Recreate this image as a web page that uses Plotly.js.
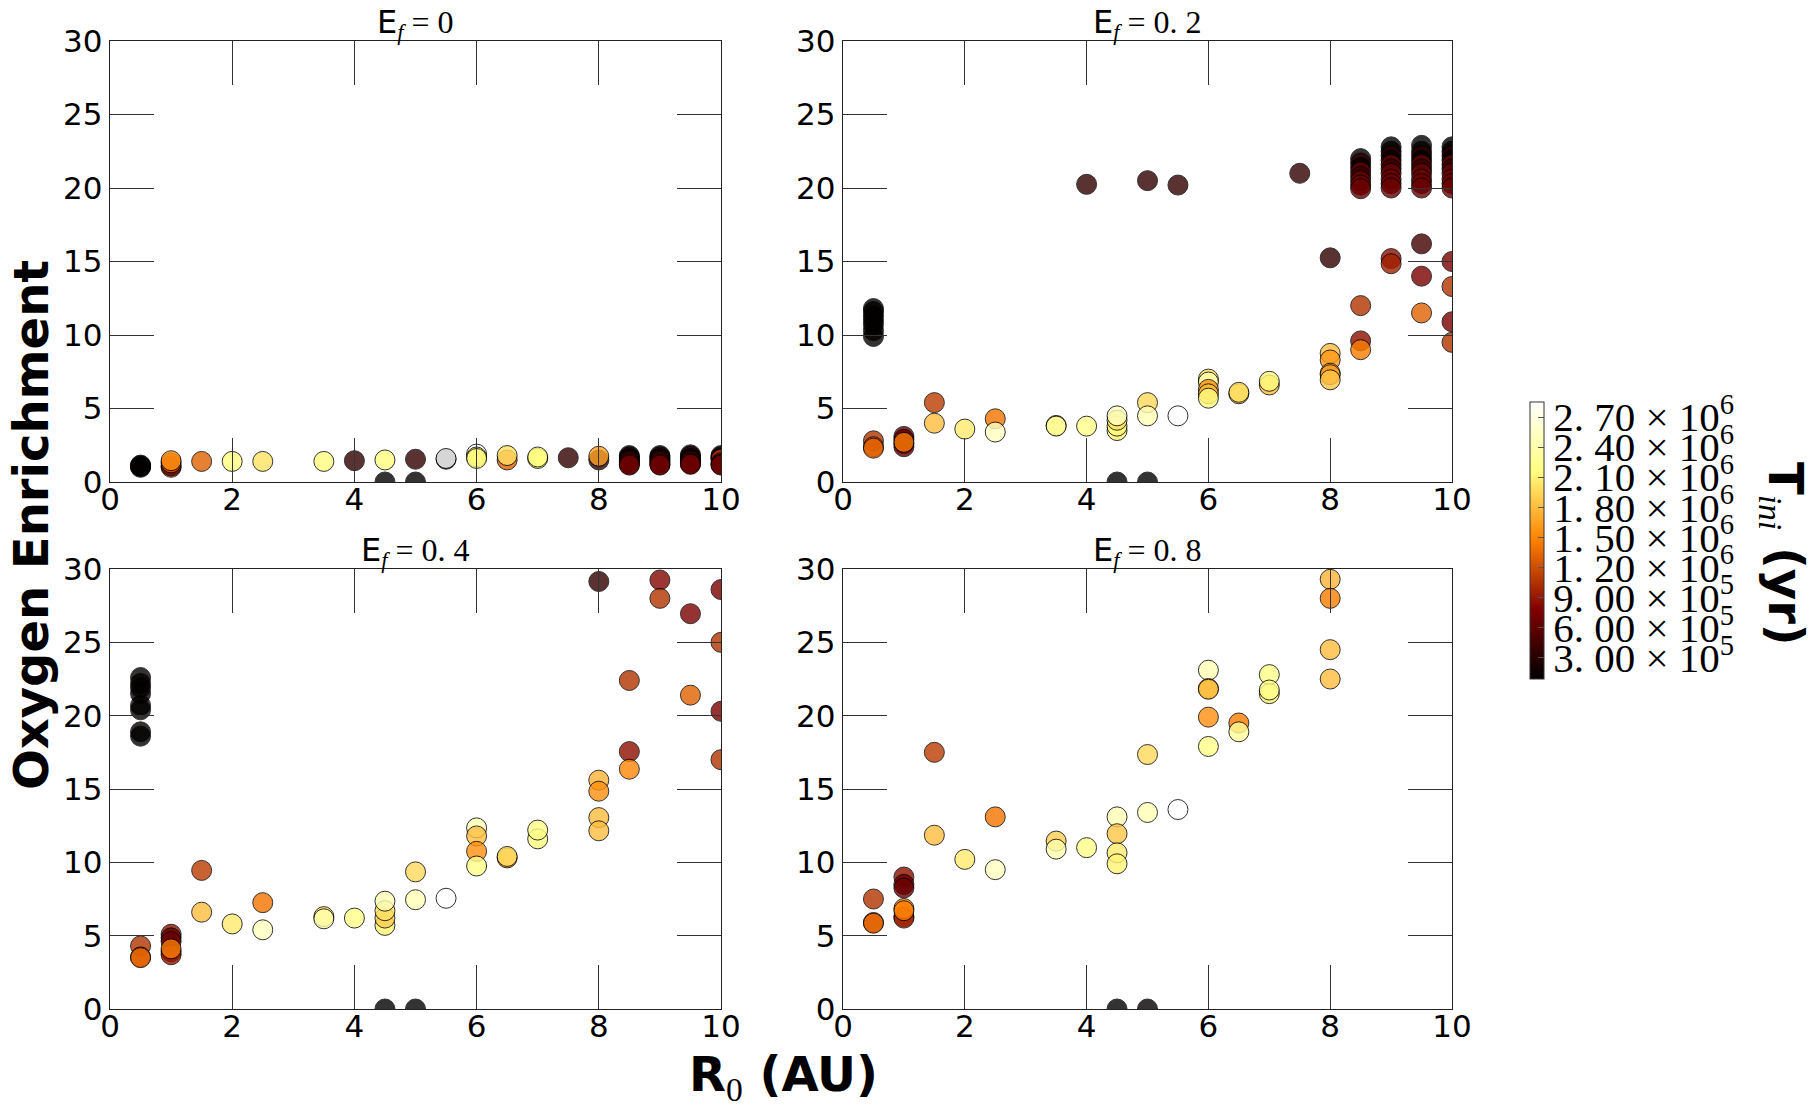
<!DOCTYPE html>
<html>
<head>
<meta charset="utf-8">
<script src="https://cdn.plot.ly/plotly-3.0.1.min.js"></script>
<style>html,body{margin:0;padding:0;background:#fff;}</style>
</head>
<body>
<div id="chart" style="width:1816px;height:1113px;"></div>
<script>
// ---------- DATA ----------
// Panel E_f = 0
const ef0_R0 = [0.5,0.5,0.5,0.5, 1,1,1,1, 1.5, 2, 2.5, 3.5, 4, 4.5,4.5, 5,5, 5.5,5.5, 6,6,6, 6.5,6.5, 7,7, 7.5, 8,8,
  8.5,8.5,8.5,8.5,8.5,8.5,8.5,8.5, 9,9,9,9,9,9,9,9, 9.5,9.5,9.5,9.5,9.5,9.5,9.5,9.5, 10,10,10,10,10,10,10];
const ef0_enrich = [1.0,1.05,1.1,1.15, 1.0,1.1,1.3,1.45, 1.4, 1.4, 1.4, 1.4, 1.45, 0,1.5, 0,1.55, 1.55,1.6, 1.9,1.7,1.6, 1.5,1.8, 1.6,1.7, 1.65, 1.5,1.75,
  1.8,1.7,1.6,1.5,1.4,1.3,1.2,1.15, 1.8,1.7,1.6,1.5,1.4,1.3,1.2,1.15, 1.85,1.75,1.6,1.5,1.4,1.3,1.25,1.2, 1.8,1.7,1.6,1.55,1.3,1.2,1.15];
const ef0_tini = [1.0e5,1.0e5,1.0e5,1.0e5, 1.05e6,6.5e5,1.3e6,1.55e6, 1.3e6, 2.15e6, 2.0e6, 2.15e6, 3.5e5, 1.0e5,2.15e6, 1.0e5,3.5e5, 1.0e5,2.85e6, 2.85e6,2.0e6,2.15e6, 1.3e6,2.0e6, 2.15e6,2.15e6, 3.5e5, 3.5e5,1.65e6,
  1.0e5,3.5e5,1.0e5,3.5e5,6.5e5,6.5e5,6.5e5,6.5e5, 1.0e5,3.5e5,1.0e5,3.5e5,6.5e5,6.5e5,6.5e5,6.5e5, 1.0e5,3.5e5,1.0e5,3.5e5,6.5e5,6.5e5,6.5e5,6.5e5, 1.0e5,3.5e5,6.5e5,1.05e6,6.5e5,6.5e5,6.5e5];

// Panel E_f = 0.2
const ef02_R0 = [0.5,0.5,0.5,0.5,0.5,0.5,0.5, 0.5,0.5,0.5, 1,1,1,1,1, 1.5,1.5, 2, 2.5,2.5, 3.5,3.5, 4,4,
  4.5,4.5,4.5,4.5,4.5, 5,5,5,5, 5.5,5.5, 6,6,6,6,6, 6.5,6.5, 7,7, 7.5, 8,8,8,8,8,8,
  8.5,8.5,8.5,8.5,8.5,8.5,8.5,8.5, 8.5,8.5,8.5,
  9,9,9,9,9,9,9,9,9,9, 9,9,
  9.5,9.5,9.5,9.5,9.5,9.5,9.5,9.5,9.5,9.5, 9.5,9.5,9.5,
  10,10,10,10,10,10,10,10,10,10, 10,10,10,10];
const ef02_enrich = [9.9,10.3,10.7,11.0,11.3,11.6,11.8, 2.8,2.4,2.3, 3.1,2.9,2.6,2.4,2.7, 5.4,4.0, 3.6, 4.3,3.4, 3.85,3.8, 3.8,20.25,
  0,3.5,3.8,4.2,4.5, 0,20.5,5.4,4.5, 20.2,4.5, 7.0,6.8,6.3,6.0,5.7, 6.0,6.1, 6.6,6.85, 21.0, 15.25,8.75,8.3,7.4,7.3,6.95,
  22.0,21.7,21.4,21.1,20.8,20.5,20.2,19.95, 12.0,9.6,9.0,
  22.8,22.5,22.2,21.9,21.6,21.3,21.0,20.6,20.3,20.0, 15.2,14.85,
  22.9,22.5,22.2,21.9,21.6,21.3,21.0,20.6,20.3,20.0, 16.2,14.0,11.5,
  22.8,22.5,22.2,21.9,21.6,21.3,21.0,20.6,20.3,20.0, 15.0,13.3,10.9,9.5];
const ef02_tini = [1.0e5,1.0e5,1.0e5,1.0e5,1.0e5,1.0e5,1.0e5, 1.05e6,1.3e6,1.3e6, 6.5e5,6.5e5,6.5e5,6.5e5,1.45e6, 1.1e6,1.8e6, 2.05e6, 1.4e6,2.5e6, 2.0e6,2.3e6, 2.2e6,3.5e5,
  1.0e5,2.1e6,2.15e6,2.0e6,2.5e6, 1.0e5,3.5e5,1.95e6,2.45e6, 3.5e5,2.85e6, 2.0e6,2.4e6,1.55e6,1.8e6,2.15e6, 1.8e6,2.0e6, 1.8e6,2.15e6, 3.5e5, 3.5e5,1.8e6,1.6e6,1.8e6,1.6e6,1.85e6,
  1.0e5,3.5e5,1.0e5,6.5e5,3.5e5,6.5e5,6.5e5,6.5e5, 1.05e6,8.5e5,1.45e6,
  1.0e5,1.0e5,3.5e5,1.0e5,6.5e5,3.5e5,6.5e5,6.5e5,6.5e5,6.5e5, 8.5e5,9.5e5,
  1.0e5,1.0e5,3.5e5,1.0e5,6.5e5,3.5e5,6.5e5,6.5e5,6.5e5,6.5e5, 4.5e5,7.5e5,1.3e6,
  1.0e5,1.0e5,3.5e5,1.0e5,6.5e5,3.5e5,6.5e5,6.5e5,6.5e5,6.5e5, 7.5e5,1.05e6,7.5e5,1.05e6];

// Panel E_f = 0.4
const ef04_R0 = [0.5,0.5,0.5,0.5,0.5,0.5,0.5,0.5, 0.5,0.5,0.5, 1,1,1,1,1,1, 1.5,1.5, 2, 2.5,2.5, 3.5,3.5, 4,
  4.5,4.5,4.5,4.5,4.5, 5,5,5, 5.5, 6,6,6,6, 6.5,6.5, 7,7, 8,8,8,8,8, 8.5,8.5,8.5, 9,9, 9.5,9.5, 10,10,10,10];
const ef04_enrich = [22.6,22.2,21.9,21.5,20.7,20.4,18.9,18.6, 4.3,3.55,3.5, 5.1,4.85,4.6,3.9,3.7,4.1, 9.45,6.6, 5.8, 7.25,5.4, 6.3,6.15, 6.2,
  0,5.7,6.2,6.7,7.35, 0,9.35,7.45, 7.55, 12.35,11.8,10.75,9.75, 10.3,10.4, 11.6,12.2, 29.15,15.6,14.85,13.05,12.15, 22.4,17.55,16.35, 29.25,28.0, 26.95,21.4, 28.6,25.0,20.3,17.0];
const ef04_tini = [1.0e5,1.0e5,1.0e5,1.0e5,1.0e5,1.0e5,1.0e5,1.0e5, 1.05e6,1.3e6,1.3e6, 8.5e5,6.5e5,6.5e5,6.5e5,9.0e5,1.45e6, 1.1e6,1.8e6, 2.05e6, 1.4e6,2.5e6, 2.0e6,2.4e6, 2.2e6,
  1.0e5,2.1e6,1.9e6,2.0e6,2.45e6, 1.0e5,1.95e6,2.45e6, 2.85e6, 2.45e6,1.8e6,1.55e6,2.2e6, 1.55e6,2.0e6, 2.15e6,2.2e6, 3.5e5,1.75e6,1.55e6,1.8e6,1.8e6, 1.05e6,8.5e5,1.5e6, 8.0e5,1.05e6, 7.5e5,1.3e6, 7.5e5,1.05e6,7.5e5,1.05e6];

// Panel E_f = 0.8
const ef08_R0 = [0.5,0.5,0.5, 1,1,1,1,1,1,1, 1.5,1.5, 2, 2.5,2.5, 3.5,3.5, 4, 4.5,4.5,4.5,4.5,4.5, 5,5,5, 5.5,
  6,6,6,6,6, 6.5,6.5, 7,7,7, 8,8,8,8];
const ef08_enrich = [7.5,5.9,5.85, 9.0,8.5,8.25,6.3,6.2,6.85,6.7, 17.5,11.85, 10.2, 13.1,9.5, 11.45,10.9, 11.0, 0,13.1,11.95,10.65,9.9, 0,17.35,13.4, 13.6,
  23.1,21.85,21.8,19.9,17.9, 19.5,18.9, 22.8,21.5,21.75, 29.3,28.0,24.5,22.5];
const ef08_tini = [1.05e6,1.3e6,1.3e6, 8.5e5,6.5e5,6.5e5,7.0e5,1.0e6,1.5e6,1.45e6, 1.1e6,1.8e6, 2.05e6, 1.4e6,2.5e6, 1.9e6,2.4e6, 2.2e6, 1.0e5,2.45e6,1.85e6,2.05e6,2.1e6, 1.0e5,1.95e6,2.45e6, 2.85e6,
  2.45e6,1.8e6,1.8e6,1.55e6,2.2e6, 1.45e6,2.3e6, 2.2e6,2.1e6,2.2e6, 1.75e6,1.45e6,1.8e6,1.8e6];

const panelTitles = ['0', '0. 2', '0. 4', '0. 8'];
const cbTickVals = [3.0e5, 6.0e5, 9.0e5, 1.2e6, 1.5e6, 1.8e6, 2.1e6, 2.4e6, 2.7e6];
const cbTickText = ['3. 00 × 10<sup>5</sup>', '6. 00 × 10<sup>5</sup>', '9. 00 × 10<sup>5</sup>',
  '1. 20 × 10<sup>6</sup>', '1. 50 × 10<sup>6</sup>', '1. 80 × 10<sup>6</sup>',
  '2. 10 × 10<sup>6</sup>', '2. 40 × 10<sup>6</sup>', '2. 70 × 10<sup>6</sup>'];
const xTicks = [0, 2, 4, 6, 8, 10];
const yTicks = [0, 5, 10, 15, 20, 25, 30];

// ---------- STYLE ----------
const afmhot = [[0, 'rgb(0,0,0)'], [0.25, 'rgb(128,0,0)'], [0.5, 'rgb(255,128,0)'], [0.75, 'rgb(255,255,128)'], [1, 'rgb(255,255,255)']];
const SERIF = 'Liberation Serif, DejaVu Serif, serif';
const SANS = 'DejaVu Sans, sans-serif';

function trace(x, y, c, xa, ya) {
  return {
    type: 'scatter', mode: 'markers', x: x, y: y, xaxis: xa, yaxis: ya,
    marker: { color: c, coloraxis: 'coloraxis', size: 20, opacity: 0.8, line: { color: '#000', width: 1 } },
    hoverinfo: 'x+y', showlegend: false
  };
}

const data = [
  trace(ef0_R0, ef0_enrich, ef0_tini, 'x', 'y'),
  trace(ef02_R0, ef02_enrich, ef02_tini, 'x2', 'y2'),
  trace(ef04_R0, ef04_enrich, ef04_tini, 'x3', 'y3'),
  trace(ef08_R0, ef08_enrich, ef08_tini, 'x4', 'y4')
];

const W = 1816, H = 1113;
const colL = [110 / W, 721 / W], colR = [843 / W, 1452 / W];
const rowT = [1 - 482 / H, 1 - 41 / H], rowB = [1 - 1009 / H, 1 - 569 / H];

function xax(dom, anchor) {
  return {
    domain: dom, anchor: anchor, range: [0, 10], tickvals: xTicks, ticks: 'inside', ticklen: 44, tickwidth: 1,
    tickcolor: '#333', showline: true, linecolor: '#222', linewidth: 1.3, mirror: 'ticks', showgrid: false, zeroline: false,
    tickfont: { family: SANS, size: 31, color: '#000' }, ticklabelstandoff: -11, fixedrange: true
  };
}
function yax(dom, anchor) {
  return {
    domain: dom, anchor: anchor, range: [0, 30], tickvals: yTicks, ticks: 'inside', ticklen: 44, tickwidth: 1,
    tickcolor: '#333', showline: true, linecolor: '#222', linewidth: 1.3, mirror: 'ticks', showgrid: false, zeroline: false,
    tickfont: { family: SANS, size: 31, color: '#000' }, fixedrange: true
  };
}

function titleAnn(dom, top, val) {
  return {
    xref: 'paper', yref: 'paper', x: (dom[0] + dom[1]) / 2, y: top, xanchor: 'center', yanchor: 'bottom',
    yshift: -6, showarrow: false,
    text: 'E<sub><span style="font-family:' + SERIF + '"><i>f</i></span></sub><span style="font-family:' + SERIF + '"> = ' + val + '</span>',
    font: { family: SANS, size: 32, color: '#000' }
  };
}

const layout = {
  width: W, height: H, margin: { l: 0, r: 0, t: 0, b: 0 },
  paper_bgcolor: '#fff', plot_bgcolor: '#fff', showlegend: false,
  xaxis: xax(colL, 'y'), yaxis: yax(rowT, 'x'),
  xaxis2: xax(colR, 'y2'), yaxis2: yax(rowT, 'x2'),
  xaxis3: xax(colL, 'y3'), yaxis3: yax(rowB, 'x3'),
  xaxis4: xax(colR, 'y4'), yaxis4: yax(rowB, 'x4'),
  coloraxis: {
    colorscale: afmhot, cmin: 8.5e4, cmax: 2.85e6,
    colorbar: {
      x: 1530 / W, xanchor: 'left', y: 1 - 540.5 / H, yanchor: 'middle',
      len: 277, lenmode: 'pixels', thickness: 14, thicknessmode: 'pixels', xpad: 0, ypad: 0,
      outlinewidth: 1, outlinecolor: '#333',
      tickvals: cbTickVals, ticktext: cbTickText, ticks: 'inside', ticklen: 6, tickcolor: '#555',
      tickfont: { family: SERIF, size: 41, color: '#000' }
    }
  },
  annotations: [
    titleAnn(colL, rowT[1], panelTitles[0]),
    titleAnn(colR, rowT[1], panelTitles[1]),
    titleAnn(colL, rowB[1], panelTitles[2]),
    titleAnn(colR, rowB[1], panelTitles[3]),
    {
      xref: 'paper', yref: 'paper', x: 31 / W, y: 1 - 525 / H, xanchor: 'center', yanchor: 'middle',
      showarrow: false, textangle: -90, text: '<b>Oxygen Enrichment</b>',
      font: { family: SANS, size: 48, color: '#000' }
    },
    {
      xref: 'paper', yref: 'paper', x: 783 / W, y: 1 - 1077 / H, xanchor: 'center', yanchor: 'middle',
      showarrow: false, text: '<b>R</b><sub><span style="font-family:' + SERIF + '">0</span></sub><b> (AU)</b>',
      font: { family: SANS, size: 48, color: '#000' }
    },
    {
      xref: 'paper', yref: 'paper', x: 1783 / W, y: 1 - 554 / H, xanchor: 'center', yanchor: 'middle',
      showarrow: false, textangle: 90,
      text: '<b>T</b><sub><span style="font-family:' + SERIF + '"><i>ini</i></span></sub><b> (yr)</b>',
      font: { family: SANS, size: 48, color: '#000' }
    }
  ]
};

Plotly.newPlot('chart', data, layout, { displayModeBar: false, staticPlot: true });
</script>
</body>
</html>
